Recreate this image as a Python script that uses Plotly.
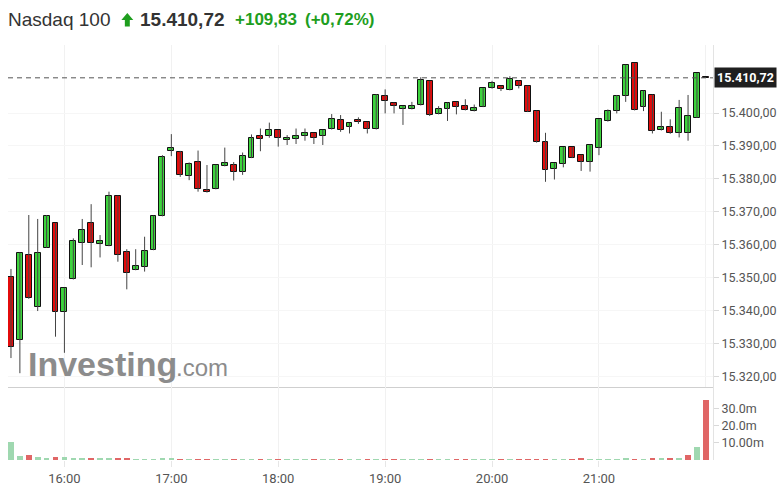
import plotly.graph_objects as go
from plotly.subplots import make_subplots

# ---------------- data ----------------
TIMES = ["15:30", "15:35", "15:40", "15:45", "15:50", "15:55",
         "16:00", "16:05", "16:10", "16:15", "16:20", "16:25", "16:30", "16:35", "16:40", "16:45", "16:50", "16:55",
         "17:00", "17:05", "17:10", "17:15", "17:20", "17:25", "17:30", "17:35", "17:40", "17:45", "17:50", "17:55",
         "18:00", "18:05", "18:10", "18:15", "18:20", "18:25", "18:30", "18:35", "18:40", "18:45", "18:50", "18:55",
         "19:00", "19:05", "19:10", "19:15", "19:20", "19:25", "19:30", "19:35", "19:40", "19:45", "19:50", "19:55",
         "20:00", "20:05", "20:10", "20:15", "20:20", "20:25", "20:30", "20:35", "20:40", "20:45", "20:50", "20:55",
         "21:00", "21:05", "21:10", "21:15", "21:20", "21:25", "21:30", "21:35", "21:40", "21:45", "21:50", "21:55",
         "22:00"]

OPEN = [15350.1, 15331.0, 15356.8, 15341.1, 15359.1, 15366.5, 15339.6, 15349.5, 15360.4, 15366.5,
        15360.2, 15359.6, 15374.8, 15357.8, 15352.3, 15353.1, 15358.4, 15368.7, 15388.4, 15388.1,
        15380.9, 15385.0, 15376.6, 15376.9, 15383.9, 15384.2, 15382.0, 15386.4, 15393.0, 15393.0,
        15394.8, 15391.8, 15392.1, 15393.0, 15393.8, 15393.1, 15395.1, 15397.9, 15395.7, 15397.9,
        15397.2, 15395.1, 15405.2, 15403.1, 15401.2, 15401.2, 15402.4, 15409.7, 15399.7, 15401.2,
        15403.3, 15402.1, 15400.6, 15401.9, 15407.5, 15408.2, 15407.0, 15409.8, 15408.2, 15400.6,
        15391.1, 15383.1, 15384.5, 15389.6, 15387.2, 15385.2, 15389.5, 15397.7, 15400.7, 15405.2,
        15415.1, 15401.7, 15405.5, 15394.8, 15395.7, 15393.8, 15393.8, 15398.6, 15410.85]

HIGH = [15352.6, 15357.6, 15369.0, 15367.8, 15369.0, 15366.6, 15346.9, 15361.9, 15367.8, 15372.3,
        15362.9, 15376.1, 15374.9, 15358.6, 15358.6, 15362.4, 15368.8, 15387.2, 15393.6, 15388.5,
        15385.0, 15388.6, 15384.2, 15384.3, 15389.5, 15385.1, 15388.0, 15393.5, 15395.3, 15397.1,
        15394.9, 15393.3, 15395.3, 15395.3, 15393.9, 15394.9, 15399.7, 15399.4, 15397.0, 15398.7,
        15397.3, 15405.8, 15407.2, 15403.2, 15402.2, 15403.4, 15410.9, 15409.8, 15402.1, 15403.2,
        15403.4, 15404.2, 15402.6, 15407.6, 15409.8, 15408.3, 15411.2, 15409.9, 15408.3, 15400.7,
        15394.0, 15384.8, 15389.7, 15389.7, 15387.3, 15390.4, 15398.2, 15401.1, 15405.5, 15414.7,
        15415.2, 15406.8, 15405.6, 15400.4, 15398.1, 15404.0, 15405.5, 15412.2, 15410.85]

LOW = [15325.5, 15320.9, 15343.5, 15339.8, 15359.0, 15332.0, 15327.1, 15349.4, 15353.8, 15353.1,
       15356.1, 15359.5, 15354.8, 15346.4, 15352.2, 15351.8, 15358.3, 15368.6, 15386.9, 15380.6,
       15379.6, 15376.1, 15375.8, 15376.8, 15383.8, 15379.5, 15381.2, 15386.3, 15388.4, 15392.5,
       15389.8, 15390.3, 15390.6, 15391.6, 15390.6, 15390.3, 15395.0, 15394.3, 15393.8, 15396.7,
       15393.8, 15395.0, 15399.9, 15399.9, 15396.4, 15401.1, 15402.3, 15399.1, 15399.6, 15397.6,
       15399.6, 15400.8, 15400.5, 15401.8, 15407.4, 15406.7, 15406.9, 15407.5, 15400.3, 15391.0,
       15379.1, 15379.8, 15383.5, 15386.3, 15382.4, 15382.2, 15387.2, 15397.4, 15399.9, 15403.4,
       15400.8, 15400.6, 15393.8, 15394.7, 15393.7, 15392.6, 15391.6, 15398.5, 15410.72]

CLOSE = [15328.8, 15357.4, 15343.7, 15357.4, 15368.8, 15339.6, 15346.7, 15361.1, 15364.4, 15360.4,
         15361.1, 15374.8, 15356.8, 15351.3, 15353.5, 15358.1, 15368.7, 15386.5, 15389.3, 15381.2,
         15384.4, 15376.9, 15375.9, 15384.2, 15384.7, 15382.0, 15386.8, 15392.3, 15392.1, 15394.8,
         15392.3, 15392.5, 15393.0, 15393.8, 15392.3, 15394.8, 15398.2, 15394.8, 15396.9, 15397.2,
         15395.3, 15405.6, 15403.6, 15402.1, 15402.1, 15402.1, 15410.0, 15399.4, 15401.2, 15403.1,
         15401.8, 15400.9, 15401.4, 15407.5, 15409.0, 15407.2, 15410.3, 15408.2, 15400.4, 15391.1,
         15382.7, 15384.7, 15389.6, 15386.4, 15385.2, 15390.3, 15398.1, 15400.6, 15405.2, 15414.6,
         15400.9, 15406.7, 15394.5, 15395.7, 15393.8, 15401.6, 15399.1, 15412.1, 15410.72]

# volume in millions
VOLUME = [10.5, 2.3, 2.8, 1.6, 1.0, 1.8, 1.8, 1.0, 1.0, 1.2,
          1.0, 1.0, 1.2, 1.2, 0.2, 0.2, 0.2, 0.8, 0.8, 0.5,
          0.3, 0.5, 0.5, 0.3, 0.3, 0.5, 0.3, 0.3, 0.4, 0.3,
          0.4, 0.3, 0.3, 0.3, 0.4, 0.3, 0.3, 0.4, 0.3, 0.4,
          0.4, 0.3, 0.4, 0.4, 0.3, 0.3, 0.3, 0.5, 0.3, 0.3,
          0.4, 0.4, 0.3, 0.3, 0.3, 0.4, 0.3, 0.4, 0.4, 0.5,
          0.5, 0.3, 0.3, 0.5, 1.1, 0.3, 0.3, 0.3, 0.3, 0.8,
          0.4, 0.3, 0.9, 0.7, 0.9, 0.8, 3.2, 7.5, 35.0]

PRICE_TICKS = [15320, 15330, 15340, 15350, 15360, 15370, 15380, 15390, 15400]
VOL_TICKS = [10, 20, 30]
VOL_TICK_LABELS = ["10.00m", "20.0m", "30.0m"]
HOUR_TICKS = ["16:00", "17:00", "18:00", "19:00", "20:00", "21:00"]

LAST_PRICE = 15410.72
HEADER_NAME = "Nasdaq 100"
HEADER_PRICE = "15.410,72"
HEADER_CHANGE = "+109,83"
HEADER_PCT = "(+0,72%)"

DAY = "2023-06-15 "
x = [DAY + t for t in TIMES]

GREEN_TXT = "#1e9e1e"
UP_FILL = "#3dd43d"
DOWN_FILL = "#e30b0b"

# split candles into up / down sets
up_x, up_base, up_h = [], [], []
dn_x, dn_base, dn_h = [], [], []
wick_x, wick_y = [], []
vol_colors = []
for i in range(len(x)):
    o, h, l, c = OPEN[i], HIGH[i], LOW[i], CLOSE[i]
    if c >= o:
        up_x.append(x[i]); up_base.append(o); up_h.append(c - o)
    else:
        dn_x.append(x[i]); dn_base.append(c); dn_h.append(o - c)
    wick_x += [x[i], x[i], None]
    wick_y += [l, h, None]
    prev = CLOSE[i - 1] if i > 0 else -1
    vol_colors.append("#9fd8b0" if c >= prev else "#e06666")

fig = make_subplots(rows=2, cols=1, shared_xaxes=True, vertical_spacing=0,
                    row_heights=[342, 73])

BODY_W = 200000  # ms

fig.add_trace(go.Scatter(x=wick_x, y=wick_y, mode="lines",
                         line=dict(color="#444444", width=1), hoverinfo="skip"), row=1, col=1)
fig.add_trace(go.Bar(x=up_x, y=up_h, base=up_base, width=BODY_W,
                     marker=dict(color=UP_FILL, line=dict(color="#111111", width=1)),
                     hoverinfo="skip"), row=1, col=1)
fig.add_trace(go.Bar(x=dn_x, y=dn_h, base=dn_base, width=BODY_W,
                     marker=dict(color=DOWN_FILL, line=dict(color="#111111", width=1)),
                     hoverinfo="skip"), row=1, col=1)

fig.add_trace(go.Bar(
    x=x, y=VOLUME, marker=dict(color=vol_colors, line=dict(width=0)),
    width=190000, hoverinfo="skip"), row=2, col=1)

xr = [DAY + "15:28:20", DAY + "22:04:00"]
fig.update_xaxes(range=xr, type="date", showgrid=True, gridcolor="#f1f1f1",
                 zeroline=False)
fig.update_xaxes(showticklabels=False, ticks="", showline=True, linecolor="#cfcfcf",
                 linewidth=1, row=1, col=1)
fig.update_xaxes(tickvals=[DAY + t for t in HOUR_TICKS], ticktext=HOUR_TICKS,
                 ticks="outside", ticklen=6, tickcolor="#e6e6e6",
                 tickfont=dict(family="Roboto", size=13, color="#555555"),
                 showline=False, row=2, col=1)

fig.update_yaxes(side="right", range=[15316.7, 15420.7], tickvals=PRICE_TICKS,
                 tickformat=",.2f", ticks="outside", ticklen=5, tickcolor="#d9d9d9",
                 tickfont=dict(family="Roboto", size=12.5, color="#555555"),
                 showgrid=True, gridcolor="#f6f6f6", zeroline=False,
                 showline=True, linecolor="#e3e3e3", row=1, col=1)
fig.update_yaxes(side="right", range=[0, 42.6], tickvals=VOL_TICKS, ticktext=VOL_TICK_LABELS,
                 ticks="outside", ticklen=5, tickcolor="#d9d9d9",
                 tickfont=dict(family="Roboto", size=12.5, color="#555555"),
                 showgrid=False, zeroline=False,
                 showline=True, linecolor="#e3e3e3", row=2, col=1)

# last price dashed line and label
fig.add_shape(type="line", xref="x domain", x0=0, x1=1, yref="y", y0=LAST_PRICE, y1=LAST_PRICE,
              line=dict(color="#555555", width=1, dash="5px,4px"))
fig.add_annotation(xref="paper", x=1, xanchor="left", xshift=1, yref="y", y=LAST_PRICE,
                   text="<b>" + HEADER_PRICE + "</b>", showarrow=False, bgcolor="#1f1f1f",
                   font=dict(family="Roboto", size=12.5, color="white"), borderpad=2)

# watermark
fig.add_annotation(xref="paper", yref="paper", x=0.026, y=0.231, xanchor="left", yanchor="middle",
                   text="<b>Investing</b>", showarrow=False,
                   font=dict(family="Liberation Sans", size=34, color="#8c8c8c"))
fig.add_annotation(xref="paper", yref="paper", x=0.236, y=0.224, xanchor="left", yanchor="middle",
                   text=".com", showarrow=False,
                   font=dict(family="Liberation Sans", size=24, color="#8c8c8c"))

# header
PL, PW, PB, PH = 8, 709, 460, 415   # plot area in px


def px(v):
    return (v - PL) / PW


def py(v):
    return (PB - v) / PH


hy = py(20)
fig.add_annotation(xref="paper", yref="paper", x=px(6), y=hy, xanchor="left", yanchor="middle",
                   text=HEADER_NAME, showarrow=False,
                   font=dict(family="Liberation Sans", size=19, color="#333333"))
arrow = [(128, 13), (134, 20), (130.5, 20), (130.5, 26.5), (125.5, 26.5), (125.5, 20), (122, 20)]
path = "M " + " L ".join(f"{px(a):.5f},{py(b):.5f}" for a, b in arrow) + " Z"
fig.add_shape(type="path", xref="paper", yref="paper", path=path,
              fillcolor=GREEN_TXT, line=dict(width=0))
fig.add_annotation(xref="paper", yref="paper", x=px(139), y=hy, xanchor="left", yanchor="middle",
                   text="<b>" + HEADER_PRICE + "</b>", showarrow=False,
                   font=dict(family="Liberation Sans", size=19, color="#333333"))
fig.add_annotation(xref="paper", yref="paper", x=px(234), y=hy, xanchor="left", yanchor="middle",
                   text="<b>" + HEADER_CHANGE + "</b>", showarrow=False,
                   font=dict(family="Liberation Sans", size=17, color=GREEN_TXT))
fig.add_annotation(xref="paper", yref="paper", x=px(305), y=hy, xanchor="left", yanchor="middle",
                   text="<b>" + HEADER_PCT + "</b>", showarrow=False,
                   font=dict(family="Liberation Sans", size=17, color=GREEN_TXT))

fig.update_layout(width=784, height=494, margin=dict(l=8, r=67, t=45, b=34),
                  paper_bgcolor="white", plot_bgcolor="white", separators=",.",
                  barmode="overlay", bargap=0, showlegend=False, font=dict(family="Roboto"))

fig.write_html("out.html", config={"displayModeBar": False},
               post_script="document.body.style.margin='0';")
